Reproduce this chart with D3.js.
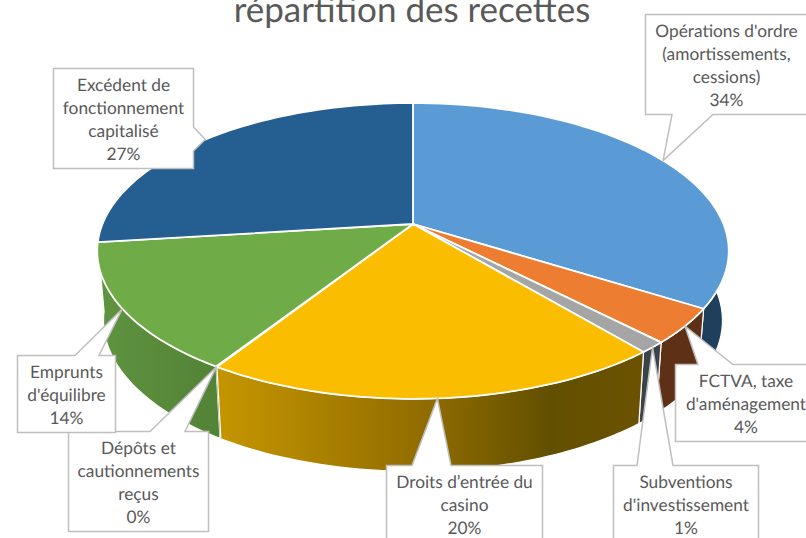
<!DOCTYPE html>
<html><head><meta charset="utf-8"><script src="https://cdn.jsdelivr.net/npm/d3@7/dist/d3.min.js"></script>
<style>html,body{margin:0;padding:0;background:#fff;overflow:hidden}svg{display:block}text{text-rendering:geometricPrecision}</style></head>
<body><svg id="c" width="806" height="538"></svg>
<script>
const categories = ["Opérations d'ordre (amortissements, cessions)","FCTVA, taxe d'aménagement","Subventions d'investissement","Droits d’entrée du casino","Dépôts et cautionnements reçus","Emprunts d'équilibre","Excédent de fonctionnement capitalisé"];
const values = [34,3.8,1.2,20,0.05,14,27];
const percentLabels = ["34%","4%","1%","20%","0%","14%","27%"];
const labelLines = [["Opérations d'ordre","(amortissements,","cessions)"],["FCTVA, taxe","d'aménagement"],["Subventions","d'investissement"],["Droits d’entrée du","casino"],["Dépôts et","cautionnements","reçus"],["Emprunts","d'équilibre"],["Excédent de","fonctionnement","capitalisé"]];
const topColors = ["#5b9bd5","#ed7d31","#a5a5a5","#fbbd00","#6fab46","#6fab46","#255e91"];
const sideStops = [[["#1f3f5c",0],["#1f3f5c",1]],[["#5e3116",0],["#5e3116",1]],[["#3c4249",0],["#3c4249",1]],[["#c59500",0],["#8f6b00",.5],["#625000",.78],["#6b5200",1]],[["#528336",0],["#528336",1]],[["#5f9440",0],["#5a8c3b",.4],["#528336",1]],[["#1c4468",0],["#1c4468",1]]];
const boxes = [
 {x:645.5,y:14.5,w:175,h:100,t0:672,t1:713,side:"bottom",tx:726.5},
 {x:675.5,y:364.5,w:150,h:77,t0:698,t1:733,side:"top",tx:746},
 {x:613.5,y:465.5,w:145,h:100,t0:637,t1:673,side:"top"},
 {x:386.5,y:465.5,w:156,h:100,t0:412,t1:451,side:"top"},
 {x:68.5,y:431.5,w:140,h:100,t0:150,t1:185,side:"top"},
 {x:17.5,y:355.5,w:98,h:77,t0:75,t1:99,side:"top"},
 {x:53.5,y:68.5,w:140,h:100,t0:127,t1:151,side:"right"}
];
const svg = d3.select("#c");
const cx=413, cy=224, a=310.5, b=143, k=-0.182, depth=69, shrinkX=.98, shrinkY=1.02;
const proj=(t,lower)=>{const u=Math.sin(t),v=-Math.cos(t),w=1+k*v;
  return [cx+(lower?shrinkX:1)*a*u/w, cy+(lower?shrinkY:1)*b*v/w+(lower?depth:0)];};
const arcs=d3.pie().sort(null).value(d=>d)(values);
const samples=(d)=>d3.range(0,61).map(d3.scaleLinear().domain([0,60]).range([d.startAngle,d.endAngle]));
const line=d3.line();
const defs=svg.append("defs");
arcs.forEach((d,i)=>{
  const pts=samples(d).map(t=>proj(t,false));
  const lo=samples(d).map(t=>proj(t,true));
  const xs=pts.concat(lo).map(p=>p[0]);
  const g=defs.append("linearGradient").attr("id","s"+i).attr("gradientUnits","userSpaceOnUse")
    .attr("x1",d3.min(xs)).attr("x2",d3.max(xs)).attr("y1",0).attr("y2",0);
  sideStops[i].forEach(s=>g.append("stop").attr("offset",s[1]).attr("stop-color",s[0]));
});
// walls, back to front
const midY=d=>proj((d.startAngle+d.endAngle)/2,false)[1];
const wallOrder=arcs.map((d,i)=>({d,i})).sort((p,q)=>midY(p.d)-midY(q.d));
svg.append("g").selectAll("path").data(wallOrder).join("path")
 .attr("d",o=>line(samples(o.d).map(t=>proj(t,false)).concat(samples(o.d).reverse().map(t=>proj(t,true))))+"Z")
 .attr("fill",o=>`url(#s${o.i})`)
 .attr("stroke",o=>o.i===4?"none":"#fff").attr("stroke-width",1.2);
// top faces
svg.append("g").selectAll("path").data(arcs).join("path")
 .attr("d",d=>line([[cx,cy]].concat(samples(d).map(t=>proj(t,false))))+"Z")
 .attr("fill",(d,i)=>topColors[i]).attr("stroke","#fff").attr("stroke-width",1.8).attr("stroke-linejoin","round");
// title
svg.append("text").attr("x",412).attr("y",22).attr("text-anchor","middle")
 .attr("font-family","Lato").attr("font-size",35).attr("fill","#595959").text("répartition des recettes");
// callouts
const lab=svg.append("g");
arcs.forEach((d,i)=>{
  const B=boxes[i],tip=proj((d.startAngle+d.endAngle)/2,false);
  const R=B.x+B.w,Bt=B.y+B.h;
  const p=B.side==="top"
   ?[[B.x,B.y],[B.t0,B.y],tip,[B.t1,B.y],[R,B.y],[R,Bt],[B.x,Bt]]
   :B.side==="bottom"
   ?[[B.x,B.y],[R,B.y],[R,Bt],[B.t1,Bt],tip,[B.t0,Bt],[B.x,Bt]]
   :[[B.x,B.y],[R,B.y],[R,B.t0],tip,[R,B.t1],[R,Bt],[B.x,Bt]];
  lab.append("path").attr("d",line(p)+"Z").attr("fill","#fff").attr("stroke","#bfbfbf").attr("stroke-width",1.5);
  const ls=labelLines[i].concat([percentLabels[i]]);
  const tx=B.tx||B.x+B.w/2;
  lab.append("text").attr("text-anchor","middle").attr("font-family","Lato").attr("font-size",17.3).attr("fill","#595959")
   .selectAll("tspan").data(ls).join("tspan").attr("x",tx).attr("y",(s,j)=>B.y+22.5+j*23).text(s=>s);
});
</script></body></html>
